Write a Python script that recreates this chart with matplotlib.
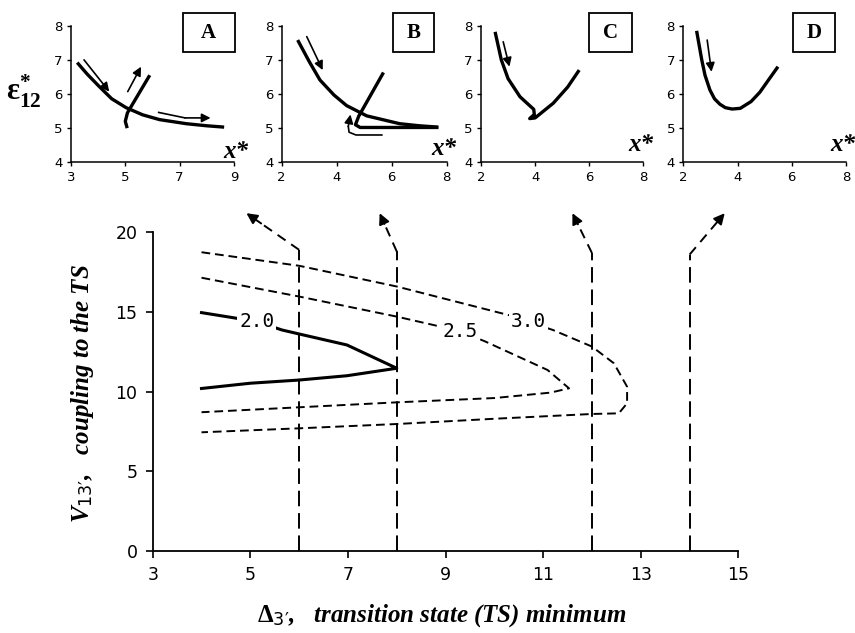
import matplotlib
matplotlib.use('Agg')
import matplotlib.pyplot as plt
from matplotlib.patches import Rectangle

plt.rcParams['mathtext.fontset'] = 'custom'
plt.rcParams['mathtext.rm'] = 'Liberation Serif:bold'
plt.rcParams['mathtext.it'] = 'Liberation Serif:italic:bold'
plt.rcParams['mathtext.bf'] = 'Liberation Serif:bold'
plt.rcParams['mathtext.sf'] = 'DejaVu Sans'

# ---- main panel data ----
c20_x = [4.0, 4.59, 5.13, 5.65, 6.0, 6.98, 8.0, 6.98, 6.0, 5.0, 4.0]
c20_y = [14.96, 14.67, 14.4, 13.87, 13.62, 12.93, 11.47, 11.0, 10.73, 10.53, 10.2]
c25_x = [4.0, 6.0, 8.0, 9.3, 9.82, 11.09, 11.53, 11.15, 10.0, 8.0, 6.0, 4.0]
c25_y = [17.15, 15.97, 14.71, 13.8, 13.14, 11.36, 10.21, 9.94, 9.6, 9.33, 9.02, 8.71]
c30_x = [4.0, 6.0, 8.0, 10.3, 11.2, 12.0, 12.45, 12.72, 12.72, 12.55, 12.0, 10.0, 8.0, 6.0, 4.0]
c30_y = [18.75, 17.9, 16.6, 14.8, 13.87, 12.83, 11.78, 10.31, 9.27, 8.64, 8.6, 8.3, 7.97, 7.7, 7.45]
contour_labels = ['2.0', '2.5', '3.0']
label_x = [5.13, 9.3, 10.7]
label_y = [14.4, 13.8, 14.4]

guide_x = [6, 8, 12, 14]
guide_top = [18.9, 18.8, 18.7, 18.6]
guide_tip_x = [4.92, 7.65, 11.6, 14.72]
guide_tip_y = [21.2, 21.2, 21.2, 21.2]

# ---- inset data ----
a1_x = [3.23, 3.6, 4.04, 4.5, 5.03, 5.64, 6.26, 7.25, 7.99, 8.64]
a1_y = [6.92, 6.58, 6.22, 5.86, 5.6, 5.39, 5.25, 5.13, 5.07, 5.03]
a2_x = [5.07, 5.0, 5.08, 5.9]
a2_y = [5.0, 5.2, 5.45, 6.55]
b1_x = [2.58, 3.0, 3.39, 3.9, 4.36, 5.09, 6.29, 7.0, 7.69]
b1_y = [7.58, 6.95, 6.41, 5.97, 5.66, 5.36, 5.13, 5.07, 5.03]
b2_x = [5.7, 4.8, 4.68, 4.85, 7.7]
b2_y = [6.63, 5.35, 5.1, 5.02, 5.02]
c_x = [2.52, 2.75, 3.0, 3.44, 3.95, 3.97, 3.8, 4.0, 4.67, 5.2, 5.63]
c_y = [7.82, 7.0, 6.45, 5.92, 5.55, 5.4, 5.28, 5.3, 5.73, 6.2, 6.7]
d_x = [2.49, 2.68, 2.8, 2.98, 3.15, 3.35, 3.55, 3.8, 4.1, 4.5, 4.82, 5.15, 5.49]
d_y = [7.85, 7.0, 6.55, 6.12, 5.86, 5.7, 5.6, 5.56, 5.58, 5.78, 6.05, 6.42, 6.8]

# arrows: list of (xs, ys) polylines, head at the last point
arrows_a = [([3.48, 4.41], [7.0, 6.07]),
            ([5.09, 5.58], [6.07, 6.8]),
            ([6.23, 7.2, 8.14], [5.46, 5.3, 5.3])]
arrows_b = [([2.91, 3.49], [7.68, 6.7]),
            ([5.64, 4.7, 4.45, 4.42, 4.5], [4.8, 4.8, 4.88, 5.05, 5.4])]
arrows_c = [([2.82, 3.05], [7.53, 6.8])]
arrows_d = [([2.88, 3.04], [7.58, 6.65])]

panel_names = ['A', 'B', 'C', 'D']
panel_xlim = [(3, 9), (2, 8), (2, 8), (2, 8)]
panel_xticks = [[3, 5, 7, 9], [2, 4, 6, 8], [2, 4, 6, 8], [2, 4, 6, 8]]

fig = plt.figure(figsize=(8.55, 6.33), dpi=100)

# ---------------- main axes ----------------
ax = fig.add_axes([0.1786, 0.1295, 0.685, 0.5035])
ax.set_xlim(3, 15)
ax.set_ylim(0, 20)
ax.set_xticks(range(3, 16, 2))
ax.set_yticks(range(0, 21, 5))
for s in ['top', 'right']:
    ax.spines[s].set_visible(False)
for s in ['left', 'bottom']:
    ax.spines[s].set_linewidth(1.3)
ax.tick_params(direction='out', length=5, width=1.2, labelsize=12.5, pad=6)
for t in ax.get_xticklabels() + ax.get_yticklabels():
    t.set_family('DejaVu Sans')

ax.plot(c20_x, c20_y, color='k', lw=2.2, zorder=3)
ax.plot(c25_x, c25_y, color='k', lw=1.4, dashes=(4.5, 2.5), zorder=3)
ax.plot(c30_x, c30_y, color='k', lw=1.4, dashes=(4.5, 2.5), zorder=3)
for lab, lx, ly in zip(contour_labels, label_x, label_y):
    ax.text(lx, ly, lab, ha='center', va='center', fontsize=14,
            family='DejaVu Sans Mono', zorder=5,
            bbox=dict(facecolor='white', edgecolor='none', pad=1.5))

for x0, top, tx, ty in zip(guide_x, guide_top, guide_tip_x, guide_tip_y):
    ax.plot([x0, x0], [0, top], color='k', lw=1.4, dashes=(8, 3.5), zorder=2)
    mx = x0 + 0.72 * (tx - x0)
    my = top + 0.72 * (ty - top)
    ax.plot([x0, mx], [top, my], color='k', lw=1.4, dashes=(5, 3.5),
            clip_on=False, zorder=2)
    ax.annotate('', xy=(tx, ty), xytext=(mx, my),
                arrowprops=dict(arrowstyle='-|>', color='k', lw=1.4,
                                mutation_scale=16, shrinkA=0, shrinkB=0),
                annotation_clip=False)

fig.text(0.517, 0.027,
         r'$\Delta_{\mathsf{3′}}$,   transition state (TS) minimum',
         ha='center', va='center', fontsize=18, family='Liberation Serif',
         style='italic', weight='bold')
fig.text(0.097, 0.378,
         r'$\mathit{V}_{\mathsf{13′}}$,   coupling to the TS',
         ha='center', va='center', rotation=90, fontsize=18,
         family='Liberation Serif', style='italic', weight='bold')

# ---------------- insets ----------------
inset_left = [0.0830, 0.3295, 0.5626, 0.7992]
inset_width = [0.1906, 0.1930, 0.1898, 0.1903]
box_x = [(0.685, 1.006), (0.673, 0.923), (0.667, 0.928), (0.676, 0.932)]
xstar_pos = [(1.01, 0.08), (0.98, 0.10), (0.985, 0.13), (0.98, 0.13)]
curves = [[(a1_x, a1_y), (a2_x, a2_y)],
          [(b1_x, b1_y), (b2_x, b2_y)],
          [(c_x, c_y)],
          [(d_x, d_y)]]
arrow_sets = [arrows_a, arrows_b, arrows_c, arrows_d]

for i in range(4):
    ia = fig.add_axes([inset_left[i], 0.7436, inset_width[i], 0.2158])
    ia.set_xlim(*panel_xlim[i])
    ia.set_ylim(4, 8)
    ia.set_xticks(panel_xticks[i])
    ia.set_yticks([4, 5, 6, 7, 8])
    for s in ['top', 'right']:
        ia.spines[s].set_visible(False)
    for s in ['left', 'bottom']:
        ia.spines[s].set_linewidth(1.1)
    ia.tick_params(direction='out', length=3, width=1, labelsize=9.5, pad=3)
    for cx, cy in curves[i]:
        ia.plot(cx, cy, color='k', lw=2.4, solid_capstyle='butt',
                solid_joinstyle='round')
    for xs, ys in arrow_sets[i]:
        if len(xs) > 2:
            ia.plot(xs[:-1], ys[:-1], color='k', lw=1.2)
        ia.annotate('', xy=(xs[-1], ys[-1]), xytext=(xs[-2], ys[-2]),
                    arrowprops=dict(arrowstyle='-|>', color='k', lw=1.2,
                                    mutation_scale=13, shrinkA=0, shrinkB=0))
    bx0, bx1 = box_x[i]
    ia.add_patch(Rectangle((bx0, 0.81), bx1 - bx0, 0.281, transform=ia.transAxes,
                           facecolor='white', edgecolor='k', lw=1.3,
                           clip_on=False, zorder=5))
    ia.text((bx0 + bx1) / 2, 0.95, panel_names[i], transform=ia.transAxes,
            ha='center', va='center', fontsize=15, family='Liberation Serif',
            weight='bold', zorder=6)
    ia.text(xstar_pos[i][0], xstar_pos[i][1], 'x*', transform=ia.transAxes,
            ha='center', va='center', fontsize=18, family='Liberation Serif',
            style='italic', weight='bold', clip_on=False)

fig.text(0.028, 0.855, r'$\mathbf{ε}^{\mathbf{*}}_{\mathbf{12}}$',
         ha='center', va='center', fontsize=22)

fig.savefig('out.png', dpi=100)
